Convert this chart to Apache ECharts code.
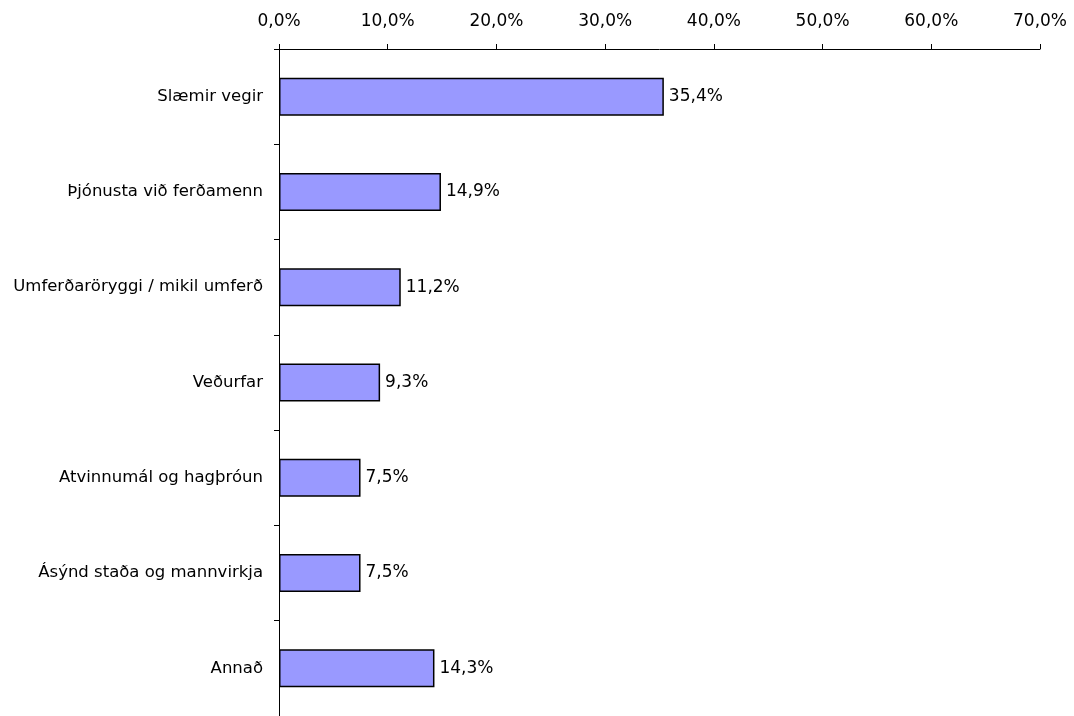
<!DOCTYPE html>
<html>
<head>
<meta charset="utf-8">
<script src="https://cdn.jsdelivr.net/npm/echarts@6/dist/echarts.min.js"></script>
<style>
  html, body { margin: 0; padding: 0; background: #fff; }
  #chart { width: 1074px; height: 716px; }
</style>
</head>
<body>
<div id="chart"></div>
<script>
const categories = [
  'Slæmir vegir',
  'Þjónusta við ferðamenn',
  'Umferðaröryggi / mikil umferð',
  'Veðurfar',
  'Atvinnumál og hagþróun',
  'Ásýnd staða og mannvirkja',
  'Annað'
]
const values = [35.4, 14.9, 11.2, 9.3, 7.5, 7.5, 14.3]

const fmt = v => v.toFixed(1).replace('.', ',') + '%'
const font = '"DejaVu Sans", sans-serif'

const chart = echarts.init(document.getElementById('chart'))
chart.setOption({
  animation: false,
  textStyle: { fontFamily: font },
  grid: { left: 279, top: 49, width: 761, height: 669, containLabel: false },
  xAxis: {
    type: 'value',
    position: 'top',
    min: 0,
    max: 70,
    interval: 10,
    axisLine: { show: true, lineStyle: { color: '#000', width: 1 } },
    axisTick: { show: true, length: 5, lineStyle: { color: '#000' } },
    axisLabel: { formatter: fmt, color: '#000', fontSize: 17, margin: 19, fontFamily: font },
    splitLine: { show: false }
  },
  yAxis: {
    type: 'category',
    inverse: true,
    data: categories,
    axisLine: { show: true, lineStyle: { color: '#000', width: 1 } },
    axisTick: { show: true, length: 5, lineStyle: { color: '#000' } },
    axisLabel: { color: '#000', fontSize: 16.5, margin: 16, fontFamily: font }
  },
  series: [{
    type: 'bar',
    data: values,
    barWidth: 38,
    itemStyle: { color: '#9999ff', borderColor: '#000', borderWidth: 1.5 },
    label: {
      show: true,
      position: 'right',
      distance: 5,
      color: '#000',
      fontSize: 17,
      fontFamily: font,
      formatter: p => fmt(p.value)
    }
  }]
})
</script>
</body>
</html>
